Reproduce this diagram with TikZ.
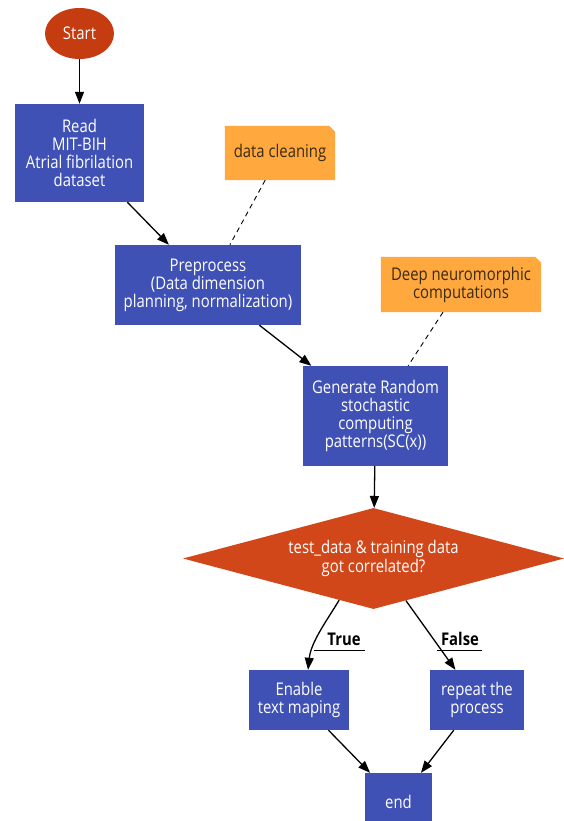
\documentclass[tikz,border=0pt]{standalone}
\usepackage{fontspec}
\setmainfont[FakeStretch=0.85]{Open Sans}
\usetikzlibrary{shapes.geometric,arrows.meta,calc,backgrounds}
\definecolor{boxblue}{HTML}{3F51B5}
\definecolor{startred}{HTML}{C53C10}
\definecolor{decred}{HTML}{D2471A}
\definecolor{noteorange}{HTML}{FFA83E}
\definecolor{notetext}{HTML}{3A2A14}
\begin{document}
\begin{tikzpicture}[x=1pt,y=-1pt,
  every node/.style={font=\fontsize{17.5}{18}\selectfont, align=center, inner sep=0pt},
  proc/.style={rectangle, fill=boxblue, text=white},
  notebox/.style={rectangle, text=notetext},
  arr/.style={-{Triangle[length=12pt,width=9pt]}, line width=1.3pt, black},
  dashln/.style={dash pattern=on 5pt off 4pt, line width=0.9pt, black},
  lbl/.style={font=\fontsize{17.5}{18}\selectfont\bfseries, text=black}
]
\useasboundingbox (0,0) rectangle (564,821);

\node[ellipse, fill=startred, text=white, minimum width=69pt, minimum height=51pt] (start) at (79.5,33.5) {Start};
\node[proc, minimum width=129pt, minimum height=98pt] (read) at (79.5,153) {Read\\MIT-BIH\\Atrial fibrilation\\dataset};
\node[notebox, minimum width=110pt, minimum height=54pt] (note1) at (280,153) {data cleaning};
\node[proc, minimum width=186pt, minimum height=80pt] (pre) at (208,285) {Preprocess\\(Data dimension\\planning, normalization)};
\node[notebox, minimum width=160pt, minimum height=55pt] (note2) at (461,284.5) {Deep neuromorphic\\computations};
\node[proc, minimum width=145pt, minimum height=100pt] (gen) at (375.5,416) {Generate Random\\stochastic\\computing\\patterns(SC(x))};
\node[diamond, fill=decred, text=white, minimum width=381pt, minimum height=101pt, aspect=3.77] (dec) at (373.5,558.5) {test\_data \& training data\\[1pt]got correlated?};
\node[proc, minimum width=100pt, minimum height=60pt] (en) at (299,700) {Enable\\text maping};
\node[proc, minimum width=94pt, minimum height=60pt] (rep) at (477,700) {repeat the\\process};
\node[proc, minimum width=67pt, minimum height=58pt] (endn) at (398.5,802) {end};

\begin{scope}[on background layer]
  \fill[noteorange] (note1.north west) -- ($(note1.north east)+(-6,0)$) -- ($(note1.north east)+(0,6)$) -- (note1.south east) -- (note1.south west) -- cycle;
  \fill[noteorange] (note2.north west) -- ($(note2.north east)+(-6,0)$) -- ($(note2.north east)+(0,6)$) -- (note2.south east) -- (note2.south west) -- cycle;
\end{scope}

\coordinate (tstart) at ($(dec.south)!0.18!(dec.west)$);
\coordinate (fstart) at ($(dec.south)!0.17!(dec.east)$);
\coordinate (ttip) at ($(en.north)+(9,0)$);

\draw[arr] (start) -- (read);
\draw[arr] (read) -- (pre);
\draw[dashln] (note1) -- (pre);
\draw[arr] (pre) -- (gen);
\draw[dashln] (note2) -- (gen);
\draw[arr] (gen) -- (dec);
\draw[arr] (tstart) .. controls ($(tstart)+(-12,20)$) and ($(ttip)+(3,-28)$) .. (ttip);
\draw[arr] (fstart) -- (rep);
\draw[arr] (en) -- (endn);
\draw[arr] (rep) -- (endn);

\node[lbl, anchor=base] (tl) at (344,645) {True};
\node[lbl, anchor=base] (fl) at (460,645) {False};
\coordinate (tu1) at (313.5,650);
\coordinate (tu2) at (365,650);
\coordinate (fu1) at (437,650);
\coordinate (fu2) at (482,650);
\draw[line width=0.9pt] (tu1) -- (tu2);
\draw[line width=0.9pt] (fu1) -- (fu2);
\end{tikzpicture}
\end{document}
